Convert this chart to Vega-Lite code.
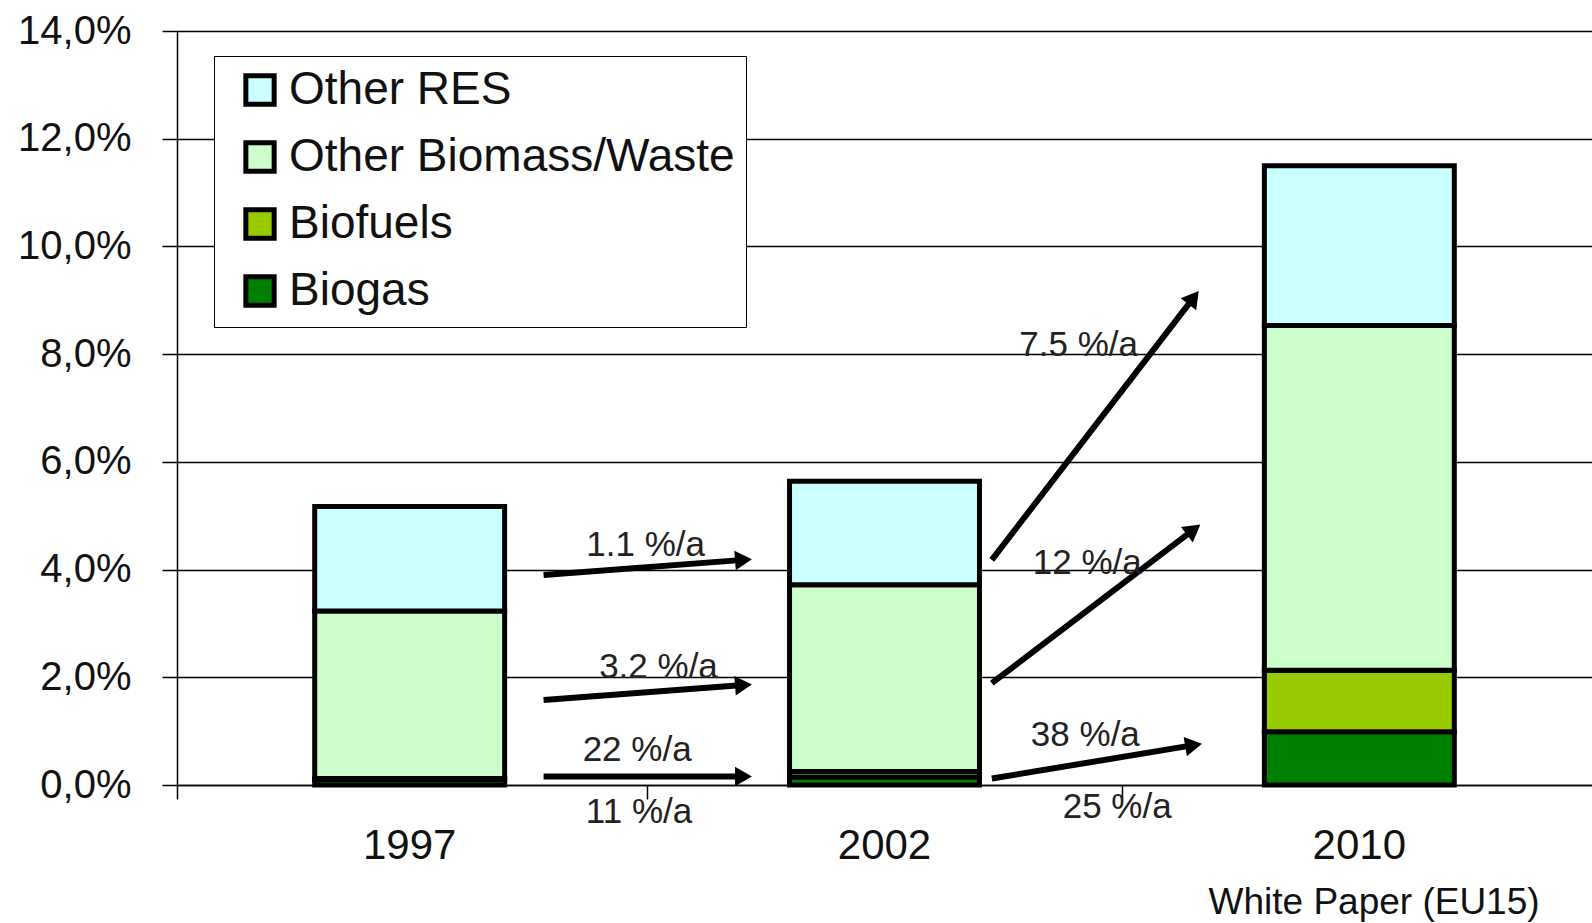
{
  "$schema": "https://vega.github.io/schema/vega-lite/v6.json",
  "autosize": {"type": "none"},
  "width": 1415,
  "height": 754,
  "padding": {"left": 177, "top": 31, "right": 0, "bottom": 138},
  "background": "white",
  "config": {
    "view": {"stroke": null},
    "font": "Liberation Sans",
    "text": {"font": "Liberation Sans"}
  },
  "datasets": {
    "shares": [
      {"year": "1997", "source": "Biogas", "k": 1, "value": 0.10},
      {"year": "1997", "source": "Biofuels", "k": 2, "value": 0.02},
      {"year": "1997", "source": "Other Biomass/Waste", "k": 3, "value": 3.11},
      {"year": "1997", "source": "Other RES", "k": 4, "value": 1.94},
      {"year": "2002", "source": "Biogas", "k": 1, "value": 0.15},
      {"year": "2002", "source": "Biofuels", "k": 2, "value": 0.10},
      {"year": "2002", "source": "Other Biomass/Waste", "k": 3, "value": 3.47},
      {"year": "2002", "source": "Other RES", "k": 4, "value": 1.92},
      {"year": "2010", "source": "Biogas", "k": 1, "value": 0.99},
      {"year": "2010", "source": "Biofuels", "k": 2, "value": 1.14},
      {"year": "2010", "source": "Other Biomass/Waste", "k": 3, "value": 6.40},
      {"year": "2010", "source": "Other RES", "k": 4, "value": 2.97}
    ],
    "arrows": [
      {"rate": "1.1 %/a", "u1": 0.772, "u2": 1.193, "y1": 3.90, "y2": 4.18},
      {"rate": "3.2 %/a", "u1": 0.772, "u2": 1.193, "y1": 1.58, "y2": 1.855},
      {"rate": "22 %/a", "u1": 0.772, "u2": 1.193, "y1": 0.16, "y2": 0.16},
      {"rate": "7.5 %/a", "u1": 1.716, "u2": 2.141, "y1": 4.18, "y2": 9.05},
      {"rate": "12 %/a", "u1": 1.716, "u2": 2.141, "y1": 1.89, "y2": 4.74},
      {"rate": "38 %/a", "u1": 1.716, "u2": 2.141, "y1": 0.12, "y2": 0.74}
    ],
    "labels": [
      {"label": "1.1 %/a", "u": 0.987, "y": 4.46},
      {"label": "3.2 %/a", "u": 1.014, "y": 2.195},
      {"label": "22 %/a", "u": 0.969, "y": 0.647},
      {"label": "11 %/a", "u": 0.973, "y": -0.50},
      {"label": "7.5 %/a", "u": 1.899, "y": 8.17},
      {"label": "12 %/a", "u": 1.917, "y": 4.12},
      {"label": "38 %/a", "u": 1.913, "y": 0.926},
      {"label": "25 %/a", "u": 1.98, "y": -0.41}
    ],
    "note": [
      {"label": "White Paper (EU15)", "u": 2.521, "y": -2.2}
    ]
  },
  "resolve": {"scale": {"x": "independent"}},
  "layer": [
    {
      "data": {"name": "shares"},
      "mark": {"type": "bar", "stroke": "black", "strokeWidth": 5},
      "encoding": {
        "x": {
          "field": "year", "type": "nominal",
          "scale": {"paddingInner": 0.6, "paddingOuter": 0.29},
          "axis": {
            "orient": "bottom",
            "title": null, "labelAngle": 0, "labelFontSize": 42, "labelColor": "#111",
            "labelFont": "Liberation Sans",
            "ticks": false, "tickSize": 0, "labelPadding": 40,
            "domain": true, "domainColor": "black", "domainWidth": 1.5
          }
        },
        "y": {
          "field": "value", "type": "quantitative", "stack": "zero",
          "scale": {"domain": [0, 14], "nice": false, "zero": true},
          "axis": {
            "title": null, "values": [0, 2, 4, 6, 8, 10, 12, 14],
            "labelExpr": "replace(format(datum.value, '.1f'), '.', ',') + '%'",
            "labelFontSize": 40, "labelColor": "#111", "labelFont": "Liberation Sans",
            "labelPadding": 31, "tickSize": 15, "tickColor": "black", "tickWidth": 1.5,
            "domainColor": "black", "domainWidth": 1.5,
            "grid": true, "gridColor": "black", "gridWidth": 1.5, "gridOpacity": 1
          }
        },
        "color": {
          "field": "source", "type": "nominal",
          "scale": {
            "domain": ["Other RES", "Other Biomass/Waste", "Biofuels", "Biogas"],
            "range": ["#ccffff", "#ccffcc", "#99cc00", "#008000"]
          },
          "legend": {
            "title": null, "orient": "none", "legendX": 37, "legendY": 25,
            "direction": "vertical",
            "fillColor": "white", "strokeColor": "black",
            "padding": 11, "symbolOffset": 12,
            "symbolType": "square", "symbolSize": 800, "symbolStrokeColor": "black",
            "symbolStrokeWidth": 5, "symbolOpacity": 1,
            "labelFontSize": 46, "labelFont": "Liberation Sans", "labelColor": "#111",
            "labelOffset": 6, "rowPadding": 17, "labelLimit": 700
          }
        },
        "order": {"field": "k", "type": "quantitative", "sort": "ascending"}
      }
    },
    {
      "data": {"name": "arrows"},
      "mark": {"type": "rule", "color": "black", "strokeWidth": 6},
      "encoding": {
        "x": {
          "field": "u1", "type": "quantitative",
          "scale": {"domain": [0, 2.98], "nice": false, "zero": false},
          "axis": {
            "orient": "bottom",
            "values": [0, 0.99, 1.99], "labels": false, "title": null, "grid": false,
            "domain": false, "ticks": true, "tickSize": 14, "tickColor": "black", "tickWidth": 1.5
          }
        },
        "x2": {"field": "u2"},
        "y": {"field": "y1", "type": "quantitative", "scale": {"domain": [0, 14], "nice": false}},
        "y2": {"field": "y2"}
      }
    },
    {
      "data": {"name": "arrows"},
      "transform": [
        {"calculate": "-atan2((datum.y2 - datum.y1) * 53.86, (datum.u2 - datum.u1) * 474.8) * 180 / PI", "as": "ang"}
      ],
      "mark": {"type": "point", "shape": "triangle-right", "filled": true, "color": "black", "size": 380, "opacity": 1},
      "encoding": {
        "x": {"field": "u2", "type": "quantitative", "scale": {"domain": [0, 2.98], "nice": false, "zero": false}, "axis": null},
        "y": {"field": "y2", "type": "quantitative", "scale": {"domain": [0, 14], "nice": false}},
        "angle": {"field": "ang", "type": "quantitative", "scale": null}
      }
    },
    {
      "data": {"name": "labels"},
      "mark": {"type": "text", "fontSize": 35, "font": "Liberation Sans", "color": "#222", "align": "center", "baseline": "middle"},
      "encoding": {
        "x": {"field": "u", "type": "quantitative", "scale": {"domain": [0, 2.98], "nice": false, "zero": false}, "axis": null},
        "y": {"field": "y", "type": "quantitative", "scale": {"domain": [0, 14], "nice": false}},
        "text": {"field": "label"}
      }
    },
    {
      "data": {"name": "note"},
      "mark": {"type": "text", "fontSize": 37, "font": "Liberation Sans", "color": "#111", "align": "center", "baseline": "middle"},
      "encoding": {
        "x": {"field": "u", "type": "quantitative", "scale": {"domain": [0, 2.98], "nice": false, "zero": false}, "axis": null},
        "y": {"field": "y", "type": "quantitative", "scale": {"domain": [0, 14], "nice": false}},
        "text": {"field": "label"}
      }
    }
  ]
}
